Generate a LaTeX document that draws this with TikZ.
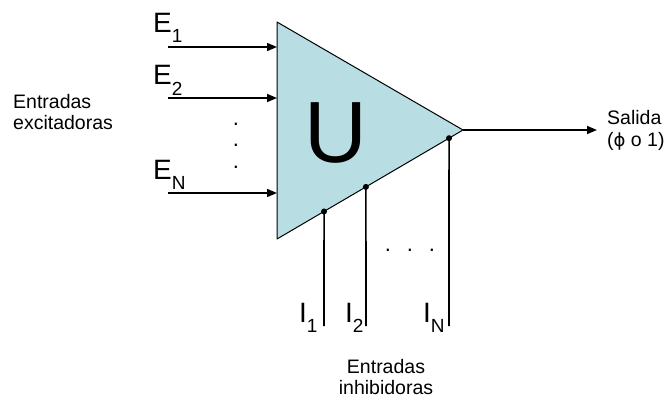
\documentclass[tikz,border=0pt]{standalone}
\usepackage{fontspec}
\setmainfont{Liberation Sans}
\newfontfamily\greekfont{DejaVu Sans}
\usetikzlibrary{arrows.meta,calc}
\definecolor{cellblue}{RGB}{184,222,228}
\newcommand{\sublbl}[2]{#1\raisebox{-10pt}{\fontsize{19}{19}\selectfont #2}}

\begin{document}
\begin{tikzpicture}[x=1pt,y=-1pt,line join=round,
  inarrow/.style={line width=1.6pt,-{Triangle[length=10pt,width=8pt]}},
  inhline/.style={line width=1.6pt},
  joint/.style={circle,fill,inner sep=0pt,minimum size=6pt},
  biglbl/.style={inner sep=0pt,anchor=base west,font=\fontsize{28}{30}\selectfont},
  smalllbl/.style={inner sep=0pt,font=\fontsize{19.5}{21}\selectfont},
  dotlbl/.style={inner sep=0pt,anchor=base,font=\fontsize{22}{22}\selectfont}]
  \useasboundingbox (0,0) rectangle (671,401);
  \coordinate (A) at (277,22);
  \coordinate (B) at (277,239);
  \coordinate (C) at (463,130);
  \filldraw[fill=cellblue,line width=1pt] (A)--(B)--(C)--cycle;
  \node[inner sep=0pt,anchor=base,font=\fontsize{87}{87}\selectfont] (U) at (336,162) {U};
  % excitatory inputs
  \coordinate (e1s) at (168,47);
  \coordinate (e1e) at (277,47);
  \coordinate (e2s) at (168,98);
  \coordinate (e2e) at (277,98);
  \coordinate (ens) at (168,193);
  \coordinate (ene) at (277,193);
  \draw[inarrow] (e1s)--(e1e);
  \draw[inarrow] (e2s)--(e2e);
  \draw[inarrow] (ens)--(ene);
  \node[biglbl] (E1) at (153,33) {\sublbl{E}{1}};
  \node[biglbl] (E2) at (153,85) {\sublbl{E}{2}};
  \node[biglbl] (EN) at (153,179) {\sublbl{E}{N}};
  \foreach \y [count=\k] in {125,146,168}
    \node[dotlbl] (vd\k) at (236,\y) {.};
  \node[smalllbl,anchor=north west,align=left,font=\fontsize{19.5}{21}\selectfont] (exc) at (13,94)
    {Entradas\\excitadoras};
  % output
  \coordinate (out) at (597,130);
  \draw[inarrow] (C)--(out);
  \node[smalllbl,anchor=north west,align=left,font=\fontsize{19.5}{22}\selectfont] (sal) at (607,110)
    {Salida\\({\greekfont\fontsize{18}{22}\selectfont ϕ} o 1)};
  % inhibitory inputs
  \coordinate (i1t) at ($(B)!0.253!(C)$);
  \coordinate (i2t) at ($(B)!0.478!(C)$);
  \coordinate (int) at ($(B)!0.925!(C)$);
  \coordinate (i1b) at (324,326);
  \coordinate (i2b) at (366,326);
  \coordinate (inb) at (449,326);
  \draw[inhline] (i1t)--(i1b);
  \draw[inhline] (i2t)--(i2b);
  \draw[inhline] (int)--(inb);
  \node[joint] (j1) at (i1t) {};
  \node[joint] (j2) at (i2t) {};
  \node[joint] (jn) at (int) {};
  \node[biglbl] (I1) at (299,322) {\sublbl{I}{1}};
  \node[biglbl] (I2) at (345,322) {\sublbl{I}{2}};
  \node[biglbl] (IN) at (423,322) {\sublbl{I}{N}};
  \foreach \x [count=\k] in {388,410,432}
    \node[dotlbl] (hd\k) at (\x,251) {.};
  \node[smalllbl,anchor=north,align=center] (inh) at (386,359)
    {Entradas\\inhibidoras};
\end{tikzpicture}
\end{document}
